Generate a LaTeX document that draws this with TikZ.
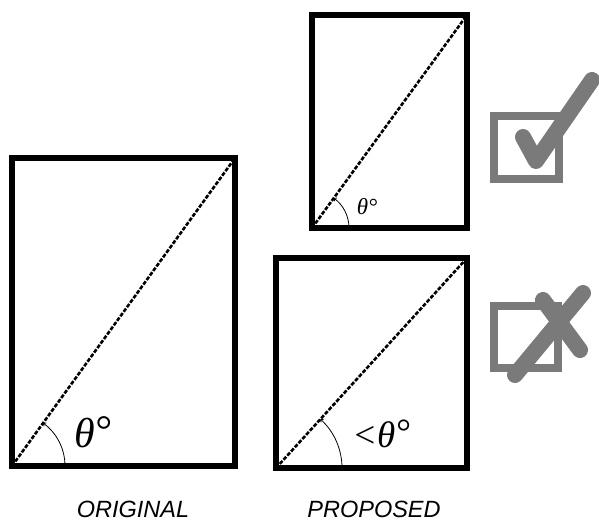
\documentclass[tikz,border=0pt]{standalone}
\usepackage{fontspec}
\newfontfamily\labelfont{Liberation Sans}
\newfontfamily\thetafont{Liberation Serif}
\usetikzlibrary{angles,arrows.meta}
\definecolor{markgray}{RGB}{122,122,122}
\tikzset{
  frame/.style={draw=black, line width=5.5pt, line join=miter},
  diag/.style={draw=black, line width=2.6pt, dash pattern=on 4pt off 1.6pt},
  anglearc/.style={draw=black, line width=0.8pt, -{Straight Barb[length=2pt,width=4pt]}},
  caption/.style={font=\labelfont\itshape\fontsize{23.5}{27}\selectfont, text=black, inner sep=0pt},
  anglelab/.style={font=\thetafont\itshape, text=black, inner sep=0pt},
  markbox/.style={draw=markgray, line width=7.5pt},
  markstroke/.style={draw=markgray, line width=16pt, line cap=round, line join=round}
}
\begin{document}
\begin{tikzpicture}[x=1pt,y=-1pt]
\useasboundingbox (0,0) rectangle (599,522);
% original
\coordinate (obl) at (12,466);
\coordinate (otr) at (235,158);
\coordinate (obr) at (235,466);
\draw[frame] (obl) rectangle (otr);
\draw[diag] (obl) -- (otr);
\pic[anglearc, angle radius=53pt] {angle = obr--obl--otr};
\node[anglelab] (olab) at (93,432) {\fontsize{42}{44}\selectfont θ\raisebox{3pt}{°}};
% proposed good
\coordinate (gbl) at (312,228);
\coordinate (gtr) at (467,15);
\coordinate (gbr) at (467,228);
\draw[frame] (gbl) rectangle (gtr);
\draw[diag] (gbl) -- (gtr);
\pic[anglearc, angle radius=37pt] {angle = gbr--gbl--gtr};
\node[anglelab] (glab) at (367,207) {\fontsize{23}{25}\selectfont θ°};
% proposed bad
\coordinate (bbl) at (276,468);
\coordinate (btr) at (467,258);
\coordinate (bbr) at (467,468);
\draw[frame] (bbl) rectangle (btr);
\draw[diag] (bbl) -- (btr);
\pic[anglearc, angle radius=66pt] {angle = bbr--bbl--btr};
\node[anglelab] (blab) at (381,434) {\fontsize{37}{40}\selectfont <θ\raisebox{3pt}{°}};
% check mark
\coordinate (cb1) at (494,116);
\coordinate (cb2) at (559,179);
\draw[markbox] (cb1) rectangle (cb2);
\coordinate (c1) at (523,137);
\coordinate (c2) at (536,161);
\coordinate (c3) at (592,80);
\draw[markstroke] (c1) -- (c2) -- (c3);
% cross mark
\coordinate (xb1) at (494,306);
\coordinate (xb2) at (558,368);
\draw[markbox] (xb1) rectangle (xb2);
\coordinate (x1) at (515,375);
\coordinate (x2) at (583,293);
\coordinate (x3) at (543,300);
\coordinate (x4) at (580,350);
\draw[markstroke] (x1) -- (x2);
\draw[markstroke] (x3) -- (x4);
% captions
\node[caption] (cap1) at (133,509) {ORIGINAL};
\node[caption] (cap2) at (374,509) {PROPOSED};
\end{tikzpicture}
\end{document}
